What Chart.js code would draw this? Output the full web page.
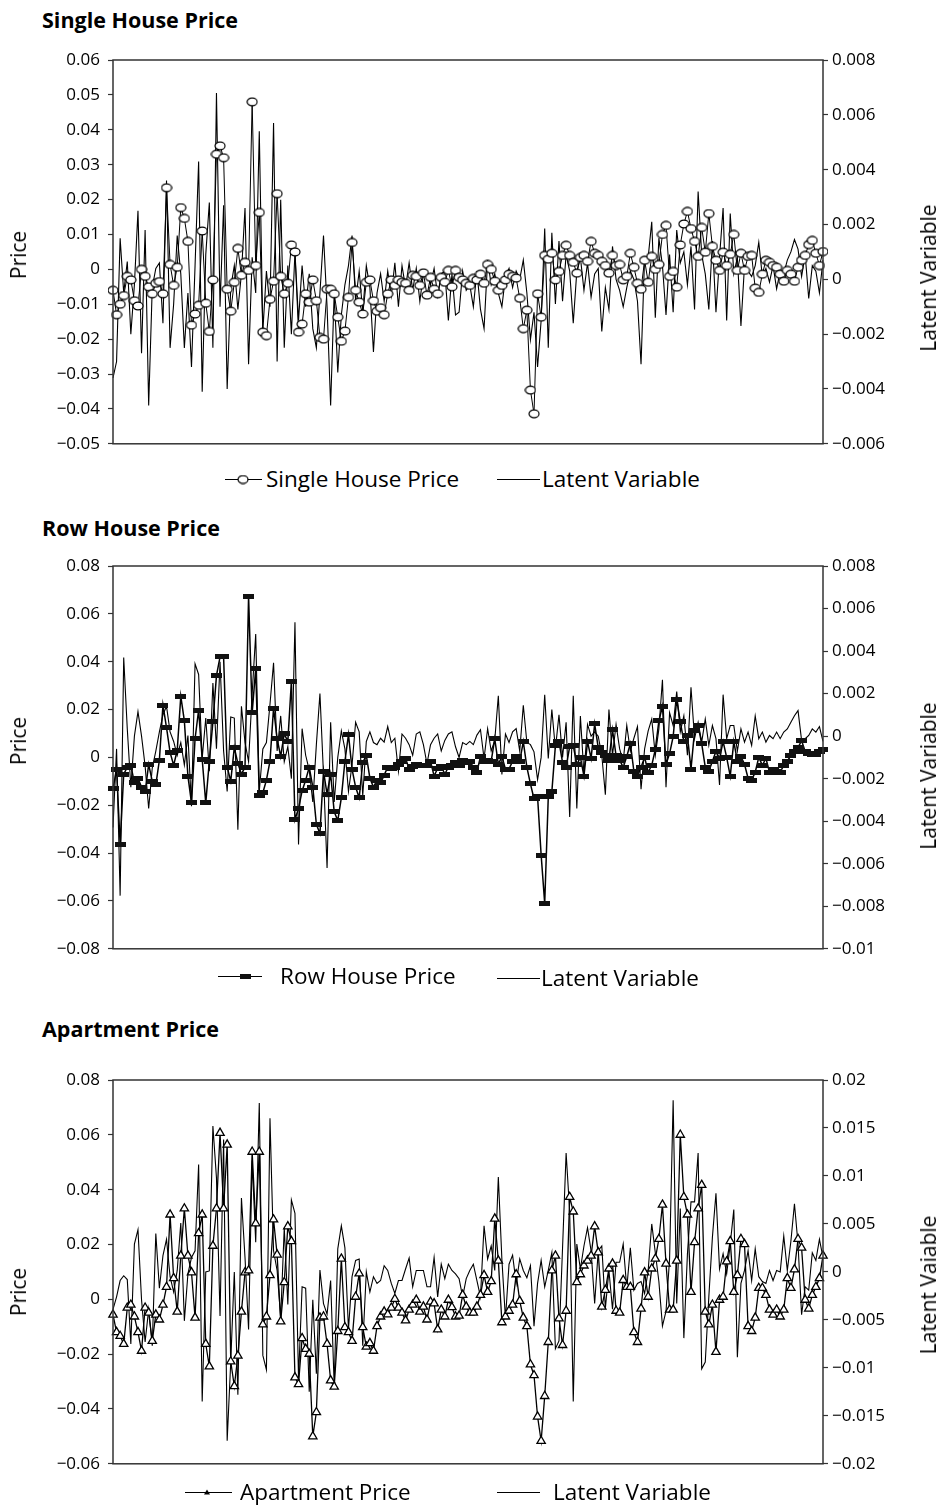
<!DOCTYPE html>
<html>
<head>
<meta charset="utf-8">
<script src="https://cdn.jsdelivr.net/npm/chart.js@4.4.0/dist/chart.umd.min.js"></script>
<style>
  html, body { margin: 0; padding: 0; background: #fff; overflow: hidden; }
  #page { position: relative; width: 940px; height: 1507px; font-family: 'Open Sans', sans-serif; color: #000; }
  .title { position: absolute; left: 42px; font-weight: bold; font-size: 21.5px; line-height: 26px; }
  .panel { position: absolute; left: 0; }
  .leg { position: absolute; font-size: 22.5px; line-height: 26px; white-space: nowrap; }
  .icon { position: absolute; }
  .axt { position: absolute; font-size: 21px; white-space: nowrap; transform: translate(-50%, -50%) rotate(-90deg); }
</style>
</head>
<body>
<div id="page">
  <div class="title" style="top:7px">Single House Price</div>
  <div class="panel" style="top:40px"><canvas id="c1" width="940" height="422"></canvas></div>
  <div class="axt" style="left:18px; top:255px">Price</div>
  <div class="axt" style="left:928px; top:278px">Latent Variable</div>
  <canvas class="icon" id="i1a" width="40" height="12" style="left:224px; top:473px"></canvas>
  <div class="leg" style="left:266px; top:466px">Single House Price</div>
  <canvas class="icon" id="i1b" width="44" height="12" style="left:497px; top:473px"></canvas>
  <div class="leg" style="left:542px; top:466px">Latent Variable</div>

  <div class="title" style="top:515px">Row House Price</div>
  <div class="panel" style="top:540px"><canvas id="c2" width="940" height="427"></canvas></div>
  <div class="axt" style="left:18px; top:741px">Price</div>
  <div class="axt" style="left:928px; top:776px">Latent Variable</div>
  <canvas class="icon" id="i2a" width="45" height="12" style="left:218px; top:970px"></canvas>
  <div class="leg" style="left:280px; top:963px">Row House Price</div>
  <canvas class="icon" id="i2b" width="44" height="12" style="left:497px; top:972px"></canvas>
  <div class="leg" style="left:541px; top:965px">Latent Variable</div>

  <div class="title" style="top:1016px">Apartment Price</div>
  <div class="panel" style="top:1050px"><canvas id="c3" width="940" height="432"></canvas></div>
  <div class="axt" style="left:18px; top:1292px">Price</div>
  <div class="axt" style="left:928px; top:1285px">Latent Vaiable</div>
  <canvas class="icon" id="i3a" width="48" height="12" style="left:185px; top:1486px"></canvas>
  <div class="leg" style="left:240px; top:1479px">Apartment Price</div>
  <canvas class="icon" id="i3b" width="44" height="12" style="left:497px; top:1486px"></canvas>
  <div class="leg" style="left:553px; top:1479px">Latent Variable</div>
</div>
<script>
// --- data ---
const singlePrice = [
  -0.006, -0.013, -0.010, -0.0075, -0.002, -0.003, -0.009, -0.0105, 0, -0.002,
  -0.005, -0.007, -0.004, -0.0035, -0.007, 0.0234, 0.0014, -0.0046, 0.0006, 0.0177,
  0.0146, 0.008, -0.016, -0.0128, -0.0103, 0.011, -0.0097, -0.0178, -0.003, 0.033,
  0.0354, 0.032, -0.0057, -0.012, -0.0037, 0.006, -0.0017, 0.002, -0.0003, 0.048,
  0.0011, 0.0163, -0.018, -0.019, -0.0086, -0.0034, 0.0217, -0.002, -0.007, -0.004,
  0.007, 0.005, -0.018, -0.0157, -0.007, -0.0094, -0.003, -0.009, -0.0195, -0.020,
  -0.0057, -0.0057, -0.007, -0.0137, -0.0206, -0.0177, -0.008, 0.0077, -0.006, -0.0094,
  -0.0128, -0.0037, -0.003, -0.009, -0.012, -0.011, -0.013, -0.007, -0.003, -0.0046,
  -0.003, -0.0037, -0.004, -0.006, -0.0017, -0.002, -0.0046, -0.001, -0.0074, -0.0023,
  -0.0057, -0.007, -0.0023, -0.0037, -0.0003, -0.005, -0.0003, -0.0023, -0.003, -0.004,
  -0.0046, -0.0026, -0.003, -0.0014, -0.004, 0.0014, 0, -0.0034, -0.006, -0.0046,
  -0.003, -0.0014, -0.002, -0.0025, -0.0083, -0.017, -0.0117, -0.0346, -0.0414, -0.007,
  -0.0137, 0.004, 0.0029, 0.0046, -0.003, -0.0006, 0.004, 0.0069, 0.004, 0.002,
  -0.0011, 0.0034, 0.004, 0.0023, 0.008, 0.0046, 0.004, 0.0023, 0.0011, -0.0011,
  0.004, 0.0011, 0.0014, -0.003, -0.002, 0.0046, 0.0006, -0.004, -0.0057, 0.0026,
  -0.0037, 0.0037, 0, 0.0014, 0.010, 0.0126, -0.002, -0.0006, -0.0051, 0.007,
  0.013, 0.0166, 0.0117, 0.008, 0.0037, 0.012, 0.0049, 0.016, 0.0066, 0.0026,
  -0.0003, 0.0049, 0.0011, 0.0043, 0.010, -0.0003, 0.0046, -0.0003, 0.0037, 0.004,
  -0.0054, -0.0066, -0.0014, 0.0026, 0.002, 0.0011, 0.0006, -0.0014, -0.0034, -0.0003,
  -0.0014, -0.0034, 0.0006, 0.0026, 0.004, 0.0071, 0.0083, 0.0046, 0.0011, 0.0051
];
const singleLatent = [
  -0.0036, -0.003, 0.0015, -0.0005, 0.00065, -0.002, -0.0002, 0.0025, -0.0027, 0.0018,
  -0.0046, -0.0003, 0.0004, 0.0006, -0.0016, 0.0036, -0.0025, -0.0009, 0.0016, 0.0002,
  -0.0025, -0.0005, -0.0032, 0.0005, 0.0043, -0.0041, 0.0009, 0.0028, -0.0025, 0.0068,
  -0.001, 0.0027, -0.004, -0.0003, 0.0005, -0.0011, 0.0002, 0.0026, -0.0031, 0.0008,
  -0.0005, 0.0054, -0.0019, 0.0003, -0.001, 0.0057, -0.003, 0.0029, -0.0025, 0.0005,
  -0.002, 0.001, -0.0015, 0.0005, -0.001, 0.0002, -0.0018, -0.0025, -0.0005, 0.0016,
  -0.001, -0.0046, -0.0005, -0.0034, -0.0013, -0.0002, 0.0005, 0.0016, -0.0008, 0.0003,
  -0.0012, 0.0005, -0.0003, -0.00265, -0.0005, 0.0002, -0.0008, 0.0003, -0.0006, 0.0006,
  -0.001, 0.0005, -0.0003, 0.0006, -0.0004, 0.0004, -0.0008, 0.0002, 0.0003, -0.0002,
  0.0004, -0.0006, 0.0002, 0.0003, -0.0015, 0.0002, -0.0013, -0.0012, 0.0003, -0.0004,
  -0.0002, -0.001, 0.0003, -0.0011, -0.0018, 0.0007, -0.0002, 0.0002, -0.0005, -0.001,
  0.0001, 0.0004, -0.0003, 0.0003, 0, 0.0007, -0.0005, -0.0022, -0.0012, -0.0032,
  -0.0015, 0.00185, -0.0025, 0.0017, -0.0009, 0.0014, -0.0008, 0.0009, 0.0003, -0.0016,
  0.0003, 0.0008, -0.0004, 0.0006, -0.00065, 0.0002, 0.0004, -0.0019, -0.0003, -0.0011,
  0.0012, 0, -0.0004, -0.001, -0.0003, 0.0003, 0, -0.0008, -0.0031, 0.0008,
  0.0008, 0.0021, -0.0014, 0.0015, 0.0005, -0.0013, 0.0009, -0.0012, 0.0018, 0.0006,
  0.001, -0.0002, 0.0012, -0.0011, 0.0032, 0.0009, 0.0002, -0.0011, 0.0014, -0.0012,
  0.0008, 0.0026, -0.0015, 0.0024, 0.0002, 0.0008, -0.0017, 0.0005, 0.0003, 0.0001,
  0.0005, 0.00135, 0.0001, 0.0004, -0.0001, 0.0005, -0.00035, 0.0003, 0.0002, 0.0007,
  0.001, 0.00145, 0.0011, 0.0001, 0.0009, -0.0007, 0.0005, 0.0003, -0.0005, 0.0007
];
const rowPrice = [
  -0.0132, -0.0049, -0.0363, -0.007, -0.0041, -0.0033, -0.0107, -0.0087, -0.0124, -0.0144,
  -0.0029, -0.0099, -0.0115, -0.0012, 0.0219, 0.0124, 0.0021, -0.0033, 0.0029, 0.0256,
  0.0153, -0.0078, -0.019, 0.0078, 0.0198, -0.0008, -0.019, -0.0016, 0.0148, 0.0342,
  0.042, 0.042, -0.0041, -0.0099, 0.0041, -0.0025, -0.007, -0.0041, 0.0672, 0.0186,
  0.0371, -0.0161, -0.0148, -0.0095, -0.0016, 0.0206, 0.0078, 0.0004, 0.0099, 0.0066,
  0.0318, -0.026, -0.0214, -0.014, -0.0095, -0.0041, -0.0124, -0.028, -0.0318, -0.0058,
  -0.0153, -0.007, -0.0227, -0.0264, -0.0169, -0.0016, 0.0095, -0.0049, -0.0124, -0.0169,
  -0.0021, 0.0008, -0.0087, -0.0124, -0.0095, -0.0107, -0.0074, -0.0041, -0.0045, -0.0041,
  -0.003, -0.0016, -0.0004, -0.0049, -0.0037, -0.0029, -0.0033, -0.0035, -0.0033, -0.0016,
  -0.0078, -0.0045, -0.0037, -0.007, -0.0041, -0.0033, -0.0021, -0.0033, -0.0012, -0.0021,
  -0.0016, -0.0041, -0.0062, 0.0004, -0.0016, -0.0012, -0.0016, 0.0078, -0.0029, 0.0004,
  -0.0049, -0.0049, -0.0016, 0.0004, -0.0016, 0.0066, -0.0041, -0.0111, -0.0173, -0.0165,
  -0.0408, -0.061, -0.0165, -0.0144, 0.0049, 0.0066, -0.0021, -0.0041, 0.0045, 0.0049,
  -0.0029, 0, -0.0078, 0.0066, -0.0004, 0.014, 0.0041, 0.0021, 0.0008, -0.0012,
  0.0115, 0.0008, -0.0012, -0.0041, 0.0004, 0.0058, -0.0058, -0.0078, -0.0041, 0,
  -0.0062, -0.0033, 0.0033, 0.0153, 0.0214, -0.0029, 0.0016, 0.0087, 0.0243, 0.0148,
  0.0066, 0.0091, -0.0049, 0.0111, 0.0132, 0.0058, -0.0041, -0.0058, -0.0016, 0.0025,
  -0.0004, 0.0066, 0, -0.0078, 0.0066, -0.0016, 0.0004, -0.0029, -0.0087, -0.0095,
  -0.0062, 0, -0.0033, -0.0004, -0.0062, -0.0049, -0.0058, -0.0062, -0.0033, -0.0016,
  0.0008, 0.0025, 0.0041, 0.007, 0.0025, 0.0016, 0.0012, 0.0012, 0.0025, 0.0033
];
const rowLatent = [
  -0.0043, -0.0006, -0.0075, 0.0037, 0.00035, -0.0024, 0, 0.00115, 0, -0.0014,
  -0.0034, -0.0015, -0.0007, 0.0002, 0.001, 0.0014, 0.0002, -0.00025, -0.0009, -0.0003,
  -0.00136, 0.00003, -0.0033, 0.0034, 0.0029, -0.00105, 0.00085, -0.00165, 0.0025, -0.00059,
  0.0035, -0.0007, -0.0026, 0.0009, 0.00085, -0.0044, 0.0014, -0.0003, -0.0012, 0.002,
  0.0048, -0.0026, -0.0006, -0.0003, 0.0015, 0.00345, -0.0007, 0.00095, -0.0012, -0.0005,
  -0.002, 0.00535, -0.0051, 0.00035, -0.0009, -0.0016, -0.0031, -0.0004, 0.002, -0.0018,
  -0.0062, 0.00065, -0.0031, -0.001, 0.00025, -0.0006, -0.0026, -0.00136, 0.00065, 0.0002,
  -0.0028, -0.00025, 0.0002, -0.0003, -0.0004, -0.0001, -0.00028, 0.00045, -0.0003, -0.0001,
  -0.00165, 0.0001, -0.0001, -0.0004, -0.0009, 0.0001, 0.0002, -0.0004, -0.0013, -0.0004,
  -0.0001, 0.0001, -0.0007, -0.0002, 0.0001, 0.0002, -0.0005, -0.001, -0.0003, -0.0004,
  -0.00025, -0.0004, 0.00005, 0.0003, -0.00105, 0.00035, -0.0007, -0.0002, 0.0019, -0.0018,
  0.0001, -0.0003, 0.0002, 0.00035, -0.0007, 0.00145, -0.0003, -0.0004, -0.00074, -0.00205,
  -0.001, 0.00195, -0.00105, 0.00125, -0.0006, 0.001, -0.001, 0.00065, -0.0038, 0.0019,
  -0.0034, 0.00095, -0.0018, 0.00055, 0, 0.0002, 0, -0.0009, -0.00275, 0.00125,
  -0.0009, 0.00055, -0.0006, -0.0012, 0.0005, -0.0007, -0.0001, 0.00045, -0.0025, -0.0006,
  0.00025, 0.0008, -0.0009, 0.00034, 0.00265, -0.0024, 0.0011, 0.0005, 0.0021, 0.0002,
  0.00096, -0.0009, 0.0023, -0.00012, 0.00065, -0.00028, 0.0008, -0.00043, 0.0005, -0.00012,
  -0.0023, 0.00195, -0.00012, 0.0005, 0.0005, -0.0007, 0.00034, -0.00028, 0.00019, -0.00043,
  0.00095, -0.00012, 0.00019, -0.00028, 0.00003, -0.00012, 0.00019, -0.00012, 0.00019, 0.00034,
  0.00065, 0.00096, 0.0012, -0.0002, -0.00012, 0.00003, 0.00034, 0.00019, 0.00045, -0.00025
];
const aptPrice = [
  -0.0056, -0.012, -0.0134, -0.0163, -0.0031, -0.002, -0.0063, -0.012, -0.0188, -0.0031,
  -0.0049, -0.0152, -0.0056, -0.0074, -0.002, 0.0045, 0.0309, 0.0077, -0.0045, 0.0159,
  0.0331, 0.0159, 0.0098, -0.0067, 0.0241, 0.0309, -0.0163, -0.0245, 0.0195, 0.0331,
  0.0607, 0.0331, 0.0564, -0.0227, -0.0317, -0.0206, -0.0045, 0.0098, 0.0105, 0.0538,
  0.0277, 0.0538, -0.0092, -0.0063, 0.0088, 0.0291, 0.0163, -0.0081, 0.0062, 0.0266,
  0.0212, -0.0285, -0.031, -0.0142, -0.0181, -0.0199, -0.050, -0.0412, -0.0067, -0.0063,
  -0.0163, -0.0296, -0.0319, -0.0116, 0.0148, -0.0102, -0.012, -0.0152, 0.0009, 0.0094,
  -0.0102, -0.0173, -0.016, -0.0188, -0.0098, -0.0063, -0.0045, -0.0055, -0.0031, 0.0001,
  -0.0031, -0.0049, -0.0077, -0.0038, -0.002, -0.0002, -0.0045, -0.0027, -0.0074, -0.0009,
  -0.0015, -0.011, -0.0038, -0.0063, -0.0002, -0.0029, -0.0063, -0.006, 0.0016, -0.0027,
  -0.0049, -0.0049, -0.0027, 0.0016, 0.0088, 0.0027, 0.0066, 0.0294, 0.0141, -0.0084,
  -0.0063, -0.0042, -0.002, 0.0091, -0.0006, -0.0067, -0.0098, -0.0238, -0.0277, -0.0428,
  -0.0517, -0.0353, -0.0156, 0.0105, 0.0159, -0.007, -0.0167, -0.0042, 0.0373, 0.032,
  0.0062, 0.0091, 0.0123, 0.0141, 0.0159, 0.0266, 0.0171, -0.0027, 0.0034, 0.0112,
  0.013, -0.0042, -0.0049, 0.007, 0.0045, 0.0045, -0.012, -0.0156, -0.0034, 0.0098,
  0.0009, 0.0112, 0.0148, 0.022, 0.0345, 0.013, -0.0038, -0.0038, 0.0141, 0.060,
  0.0373, 0.0309, 0.0027, 0.0208, 0.0331, 0.0417, -0.0045, -0.0092, -0.002, -0.0192,
  -0.0002, 0.0009, 0.0138, 0.0212, 0.0027, 0.0088, 0.022, 0.0201, -0.0098, -0.0116,
  -0.0067, 0.0041, 0.0041, 0.0016, -0.0038, -0.0056, -0.0038, -0.0063, -0.0038, 0.0077,
  0.0041, 0.0109, 0.022, 0.0188, -0.0002, -0.0034, 0.0016, 0.0045, 0.0077, 0.0159
];
const aptLatent = [
  -0.0039, -0.0026, -0.0009, -0.0004, -0.0008, -0.0075, 0.0029, 0.0044, -0.0029, -0.0073,
  -0.0039, -0.0077, 0.004, -0.0017, 0.0017, 0.0034, -0.0005, -0.0021, 0.00015, 0.0051,
  -0.0051, -0.0002, 0.0015, 0.0022, 0.0112, -0.0135, 0, 0.0001, 0.0152, 0.0098,
  -0.0046, 0.0138, -0.0176, -0.0094, 0, -0.0128, 0.0077, 0.0015, -0.006, 0.0116,
  0.0031, 0.0176, -0.0087, -0.0102, 0.016, 0.0022, 0.00015, -0.0048, 0.0046, -0.0034,
  0.0075, 0.0061, -0.0111, -0.00155, -0.0017, -0.0125, -0.0029, -0.0106, 0.0002, -0.0033,
  -0.0044, -0.0009, -0.0119, 0.0024, 0.0048, 0.0025, -0.006, -0.0005, 0.0012, 0.00135,
  -0.0077, 0, -0.0021, -0.0005, -0.0012, -0.0009, 0.00065, 0.00015, -0.0012, -0.00225,
  -0.0009, -0.0009, 0.0003, 0.00145, -0.00155, 0.00015, 0.00015, 0.00015, -0.00155, -0.00155,
  0.0015, -0.0026, 0.0008, -0.0007, 0.0008, 0.00015, -0.0002, -0.0007, -0.0026, -0.0007,
  0.00015, 0.0008, -0.0009, -0.0026, 0.0048, 0.00135, 0.0027, 0.00015, 0.0099, 0.0013,
  -0.0049, 0.0008, 0.00175, -0.0012, 0.00135, 0.00015, -0.0006, 0.00065, -0.00565, -0.0012,
  0.0012, -0.00155, 0.00015, 0.002, -0.008, -0.0072, 0.0025, 0.0124, 0.0063, -0.0135,
  0.0029, 0.0003, 0.0027, 0.0046, 0.0022, -0.0033, 0.0022, 0.0027, -0.0038, 0.00015,
  -0.0039, 0.001, 0.001, 0.0029, -0.0017, 0.0025, -0.0019, -0.0012, -0.001, -0.00225,
  0.00015, 0.005, 0.002, -0.001, -0.00565, -0.0041, 0.00135, 0.0179, -0.0033, 0.0066,
  -0.0069, 0.00185, 0.0073, 0.0073, 0.0124, -0.0101, -0.0094, -0.0026, 0.0036, 0.0082,
  0.0003, 0.0019, -0.0002, 0.0029, 0.0065, -0.0089, -0.0012, 0.00015, 0.0022, -0.0009,
  0.0024, -0.0005, -0.001, -0.0012, 0.00015, -0.0009, 0.00015, 0, 0.00375, 0.00015,
  0.0032, 0.0071, 0.0029, -0.00445, -0.00155, -0.0019, 0.002, 0.0012, 0.0034, 0.0015
];

// axis ranges [min, max, step] as printed on the picture
const singlePriceAxis = [-0.05, 0.06, 0.01];
const singleLatentAxis = [-0.006, 0.008, 0.002];
const rowPriceAxis = [-0.08, 0.08, 0.02];
const rowLatentAxis = [-0.01, 0.008, 0.002];
const aptPriceAxis = [-0.06, 0.08, 0.02];
const aptLatentAxis = [-0.02, 0.02, 0.005];

// one label per period, x axis has no printed labels
const periods = singlePrice.map((_, i) => i + 1);

Chart.defaults.font.family = "'Open Sans', sans-serif";
Chart.defaults.font.size = 17;
Chart.defaults.color = '#000';
Chart.defaults.animation = false;

// little marker images
function markImg(w, h, draw) {
  const c = document.createElement('canvas');
  c.width = w; c.height = h;
  draw(c.getContext('2d'), w, h);
  return c;
}
const ovalMark = markImg(12, 10, (g) => {
  g.beginPath(); g.ellipse(6, 5, 5, 3.9, 0, 0, Math.PI * 2);
  g.fillStyle = '#fff'; g.fill(); g.lineWidth = 1.2; g.strokeStyle = '#000'; g.stroke();
});
const dashMark = markImg(11, 5, (g) => { g.fillStyle = '#111'; g.fillRect(0, 0, 11, 5); });

// tick text like "0.005", "0", "−0.01"
function fmt(dec) {
  return (v) => {
    const r = Number(v.toFixed(dec));
    if (r === 0) return '0';
    return (r < 0 ? '\u2212' : '') + String(Math.abs(r));
  };
}

// box around the plot area
const frame = {
  id: 'frame',
  afterDraw(chart) {
    const { ctx, chartArea: a } = chart;
    ctx.save();
    ctx.strokeStyle = '#333';
    ctx.lineWidth = 1.5;
    ctx.strokeRect(a.left, a.top, a.right - a.left, a.bottom - a.top);
    ctx.restore();
  }
};

function yScale(pos, axis, dec, width, pad) {
  return {
    position: pos,
    min: axis[0], max: axis[1],
    ticks: { stepSize: axis[2], maxTicksLimit: 30, callback: fmt(dec), padding: pad },
    grid: { drawOnChartArea: false, tickLength: 5, tickColor: '#333', tickWidth: 1.2 },
    border: { display: false },
    afterFit: (s) => { s.width = width; }
  };
}

function drawChart(id, top, price, latent, priceStyle, axes) {
  return new Chart(document.getElementById(id), {
    type: 'line',
    data: {
      labels: periods,
      datasets: [
        Object.assign({ data: price, yAxisID: 'y', borderColor: '#000', tension: 0,
          pointBackgroundColor: '#fff', pointBorderColor: '#000', pointBorderWidth: 1 }, priceStyle),
        { data: latent, yAxisID: 'y1', borderColor: '#000', borderWidth: 1.1, pointRadius: 0, tension: 0 }
      ]
    },
    options: {
      responsive: false,
      layout: { padding: { top: top, bottom: 14, left: 0, right: 0 } },
      plugins: { legend: { display: false }, tooltip: { enabled: false } },
      scales: {
        x: { display: false },
        y: yScale('left', axes[0], 2, 113, 8),
        y1: yScale('right', axes[1], 3, 117, 4)
      }
    },
    plugins: [frame]
  });
}

drawChart('c1', 20, singlePrice, singleLatent,
  { borderWidth: 1, pointStyle: ovalMark, pointRadius: 4 },
  [singlePriceAxis, singleLatentAxis]);
drawChart('c2', 26, rowPrice, rowLatent,
  { borderWidth: 1.5, pointStyle: dashMark, pointRadius: 4 },
  [rowPriceAxis, rowLatentAxis]);
drawChart('c3', 30, aptPrice, aptLatent,
  { borderWidth: 1.3, pointStyle: 'triangle', pointRadius: 4.8, pointBorderWidth: 1.3 },
  [aptPriceAxis, aptLatentAxis]);

// legend icons
function icon(id, x0, x1, mx, marker) {
  const g = document.getElementById(id).getContext('2d');
  g.strokeStyle = '#000'; g.lineWidth = 1;
  g.beginPath(); g.moveTo(x0, 6.5); g.lineTo(x1, 6.5); g.stroke();
  if (marker) marker(g, mx, 6.5);
}
icon('i1a', 1, 38, 19, (g, x, y) => g.drawImage(ovalMark, x - 6, y - 5));
icon('i1b', 0, 43);
icon('i2a', 0, 44, 27, (g, x, y) => g.drawImage(dashMark, x - 5.5, y - 2.5));
icon('i2b', 0, 43);
icon('i3a', 0, 47, 22, (g, x, y) => {
  g.beginPath(); g.moveTo(x, y - 3); g.lineTo(x + 3, y + 2); g.lineTo(x - 3, y + 2); g.closePath();
  g.fillStyle = '#000'; g.fill();
});
icon('i3b', 0, 43);
</script>
</body>
</html>
